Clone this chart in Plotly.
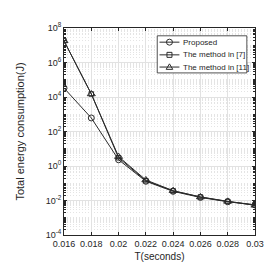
import plotly.graph_objects as go

T = [0.016, 0.018, 0.020, 0.022, 0.024, 0.026, 0.028, 0.030]
proposed = [3.3e4, 610, 2.3, 0.13, 0.034, 0.015, 0.0085, 0.0055]
method7 = [1.8e7, 1.5e4, 3.0, 0.14, 0.036, 0.016, 0.0088, 0.0056]
method11 = [1.8e7, 1.5e4, 3.5, 0.155, 0.037, 0.016, 0.0089, 0.0053]
names = ["Proposed", "The method in [7]", "The method in [11]"]
symbols = ["circle-open", "square-open", "triangle-up-open"]
xticks = [0.016, 0.018, 0.02, 0.022, 0.024, 0.026, 0.028, 0.03]
xticklabels = ["0.016", "0.018", "0.02", "0.022", "0.024", "0.026", "0.028", "0.03"]
yticks = [1e-4, 1e-2, 1e0, 1e2, 1e4, 1e6, 1e8]
yticklabels = ["10<sup>-4</sup>", "10<sup>-2</sup>", "10<sup>0</sup>", "10<sup>2</sup>",
               "10<sup>4</sup>", "10<sup>6</sup>", "10<sup>8</sup>"]

INK = "#262626"
LINE = "#2b2b2b"
FONT = "Liberation Sans, Arial, sans-serif"

W, H = 274, 265
ML, MR, MT, MB = 36, 27, 20, 33
PW, PH = W - ML - MR, H - MT - MB


def fx(px):
    return (px - ML) / PW


def fy(py):
    return 1 - (py - MT) / PH


marker_sizes = {"circle-open": 6, "square-open": 4.5, "triangle-up-open": 7}

fig = go.Figure()
for name, ys, sym in zip(names, [proposed, method7, method11], symbols):
    fig.add_trace(go.Scatter(
        x=T, y=ys, name=name, mode="lines+markers",
        line=dict(color=LINE, width=1),
        marker=dict(symbol=sym, size=marker_sizes[sym], color=LINE, line=dict(width=1, color=LINE)),
        showlegend=False,
    ))

# custom compact legend (MATLAB style)
box = dict(x0=139, x1=238, y0=28, y1=66)
rows = [34.5, 47.5, 60]
shapes = [dict(type="rect", xref="paper", yref="paper", layer="above",
               x0=fx(box["x0"]), x1=fx(box["x1"]), y0=fy(box["y1"]), y1=fy(box["y0"]),
               line=dict(color=INK, width=0.8), fillcolor="white")]
annotations = []
lx0, lx1, mx, tx = 141.5, 163.5, 152.5, 165.5
for name, sym, ry in zip(names, symbols, rows):
    shapes.append(dict(type="line", xref="paper", yref="paper", layer="above",
                       x0=fx(lx0), x1=fx(lx1), y0=fy(ry), y1=fy(ry),
                       line=dict(color=LINE, width=1)))
    common = dict(xref="paper", yref="paper", layer="above",
                  xsizemode="pixel", ysizemode="pixel",
                  xanchor=fx(mx), yanchor=fy(ry),
                  line=dict(color=LINE, width=1))
    if sym.startswith("circle"):
        shapes.append(dict(type="circle", x0=-3, x1=3, y0=-3, y1=3, **common))
    elif sym.startswith("square"):
        shapes.append(dict(type="rect", x0=-2.5, x1=2.5, y0=-2.5, y1=2.5, **common))
    else:
        shapes.append(dict(type="path", path="M -3.3,-2.3 L 3.3,-2.3 L 0,3.2 Z", **common))
    annotations.append(dict(text=name, xref="paper", yref="paper", x=fx(tx), y=fy(ry),
                            xanchor="left", yanchor="middle", showarrow=False,
                            font=dict(family=FONT, size=8, color=INK)))

fig.update_layout(
    width=W, height=H,
    margin=dict(l=ML, r=MR, t=MT, b=MB),
    paper_bgcolor="white", plot_bgcolor="white",
    font=dict(family=FONT, size=9, color=INK),
    showlegend=False,
    shapes=shapes,
    annotations=annotations,
)
fig.update_xaxes(
    range=[0.016, 0.03], tickvals=xticks, ticktext=xticklabels,
    showline=True, linecolor=INK, linewidth=0.8, mirror="ticks",
    ticks="inside", ticklen=3, tickcolor=INK,
    showgrid=True, gridcolor="#e2e2e2", gridwidth=0.7,
    zeroline=False,
    title=dict(text="T(seconds)", font=dict(size=10), standoff=5),
)
fig.update_yaxes(
    type="log", range=[-4, 8], tickvals=yticks, ticktext=yticklabels,
    showline=True, linecolor=INK, linewidth=0.8, mirror="ticks",
    ticks="inside", ticklen=3, tickcolor=INK,
    showgrid=True, gridcolor="#e2e2e2", gridwidth=0.7,
    minor=dict(dtick="D1", showgrid=True, gridcolor="#e4e4e4", griddash="1px,2px",
               gridwidth=0.7, ticks="inside", ticklen=2, tickcolor=INK),
    zeroline=False,
    title=dict(text="Total energy consumption(J)", font=dict(size=11), standoff=18),
)
fig.write_html("out.html")
